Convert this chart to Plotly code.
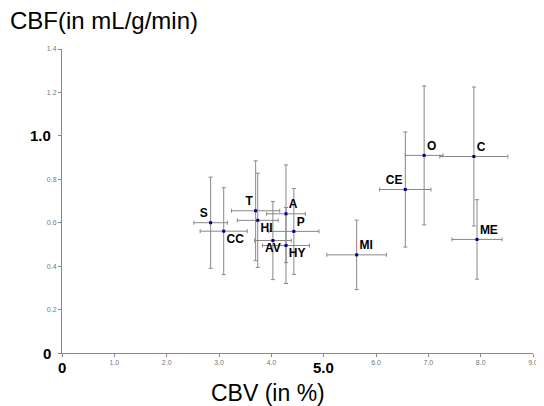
import plotly.graph_objects as go

labels = ["S", "CC", "T", "HI", "A", "P", "AV", "HY", "MI", "CE", "O", "C", "ME"]
cbv = [2.84, 3.09, 3.70, 3.74, 4.28, 4.43, 4.03, 4.28, 5.63, 6.56, 6.92, 7.87, 7.93]
cbf = [0.600, 0.561, 0.655, 0.611, 0.641, 0.560, 0.518, 0.495, 0.452, 0.753, 0.910, 0.905, 0.523]
cbv_err = [0.32, 0.45, 0.46, 0.39, 0.37, 0.48, 0.35, 0.45, 0.57, 0.49, 0.36, 0.65, 0.48]
cbf_err = [0.21, 0.20, 0.23, 0.217, 0.225, 0.198, 0.18, 0.175, 0.16, 0.265, 0.32, 0.32, 0.183]
label_pos = ["top left", "bottom right", "top left", "bottom right", "top right", "top right",
             "bottom center", "bottom right", "top right", "top left", "top right", "top right", "top right"]

x_ticks = [0, 1.0, 2.0, 3.0, 4.0, 5.0, 6.0, 7.0, 8.0, 9.0]
x_ticktext = ["", "1.0", "2.0", "3.0", "4.0", "", "6.0", "7.0", "8.0", "9.0"]
y_ticks = [0, 0.2, 0.4, 0.6, 0.8, 1.0, 1.2, 1.4]
y_ticktext = ["", "0.2", "0.4", "0.6", "0.8", "", "1.2", "1.4"]

FONT = "Liberation Sans, Arial, sans-serif"
GRAY = "#888888"

fig = go.Figure()
fig.add_trace(go.Scatter(
    x=cbv, y=cbf, mode="markers+text", text=labels, textposition=label_pos,
    textfont=dict(family=FONT, size=12, color="black", weight="bold"),
    marker=dict(symbol="square", size=3, color="#00008B"),
    error_x=dict(type="data", array=cbv_err, visible=True, color=GRAY, thickness=1, width=2),
    error_y=dict(type="data", array=cbf_err, visible=True, color=GRAY, thickness=1, width=2),
    cliponaxis=False, showlegend=False,
))

fig.update_layout(
    width=536, height=398,
    margin=dict(l=54, r=6, t=41, b=53),
    paper_bgcolor="white", plot_bgcolor="white",
    font=dict(family=FONT),
    xaxis=dict(range=[0, 9], tickvals=x_ticks, ticktext=x_ticktext, showgrid=False, zeroline=False,
               showline=True, linecolor=GRAY, linewidth=1, ticks="outside", ticklen=3, tickcolor=GRAY,
               tickfont=dict(size=7, color="#777777")),
    yaxis=dict(range=[0, 1.4], tickvals=y_ticks, ticktext=y_ticktext, showgrid=False, zeroline=False,
               showline=True, linecolor=GRAY, linewidth=1, ticks="outside", ticklen=3, tickcolor=GRAY,
               tickfont=dict(size=7, color="#777777")),
    annotations=[
        dict(text="CBF(in mL/g/min)", xref="paper", yref="paper", x=-0.114, y=1.0, yshift=29,
             xanchor="left", yanchor="middle", showarrow=False, font=dict(size=24, color="black")),
        dict(text="CBV (in %)", xref="paper", yref="paper", x=0.438, y=0, yshift=-40,
             xanchor="center", yanchor="middle", showarrow=False, font=dict(size=23, color="black")),
        dict(text="<b>0</b>", xref="x", yref="paper", x=0, y=0, yshift=-14,
             xanchor="center", yanchor="middle", showarrow=False, font=dict(size=15, color="black")),
        dict(text="<b>5.0</b>", xref="x", yref="paper", x=5.0, y=0, yshift=-14,
             xanchor="center", yanchor="middle", showarrow=False, font=dict(size=15, color="black")),
        dict(text="<b>0</b>", xref="paper", yref="y", x=0, y=0, xshift=-9,
             xanchor="right", yanchor="middle", showarrow=False, font=dict(size=15, color="black")),
        dict(text="<b>1.0</b>", xref="paper", yref="y", x=0, y=1.0, xshift=-9,
             xanchor="right", yanchor="middle", showarrow=False, font=dict(size=15, color="black")),
    ],
)

fig.write_html("out.html")
